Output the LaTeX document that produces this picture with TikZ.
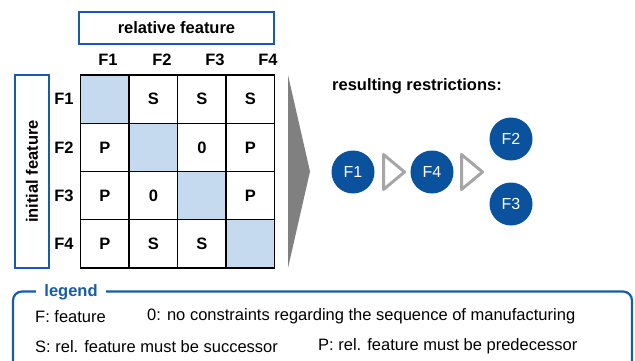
\documentclass[tikz,border=0pt]{standalone}
\usepackage{fontspec}
\setmainfont{Liberation Sans}
\usetikzlibrary{positioning}

\definecolor{darkblue}{RGB}{10,82,158}
\definecolor{frameblue}{RGB}{22,92,168}
\definecolor{cellblue}{RGB}{197,218,239}
\definecolor{arrowgray}{RGB}{128,128,128}
\definecolor{chevgray}{RGB}{166,166,166}

\newcommand{\fsz}{\fontsize{16.5}{19}\selectfont}

\tikzset{
  txt/.style={font=\fsz, inner sep=0pt},
  btxt/.style={font=\fsz\bfseries, inner sep=0pt},
  cell/.style={draw=black, line width=1.4pt, minimum width=48.5pt, minimum height=48.25pt,
    inner sep=0pt, font=\fsz\bfseries},
  diag/.style={cell, fill=cellblue},
  titlebox/.style={draw=frameblue, line width=2.4pt, inner sep=0pt, font=\fsz\bfseries},
  feat/.style={circle, fill=darkblue, text=white, minimum size=43pt, inner sep=0pt,
    font=\fontsize{16}{19}\selectfont},
  chevron/.style={draw=chevgray, line width=3pt, line join=round},
}

\begin{document}
\begin{tikzpicture}[x=1pt, y=-1pt]
\clip (0,0) rectangle (635,361);
\fill[white] (0,0) rectangle (635,361);

% header box for the columns
\node[titlebox, minimum width=195pt, minimum height=32pt] (rel) at (176.5,28) {relative feature};

% header box for the rows
\node[titlebox, minimum width=34pt, minimum height=193pt] (ini) at (32,171.5) {};
\node[btxt, rotate=90] (initxt) at (ini.center) {initial feature};

% matrix cells
\node[diag] (c11) at (104.9,99.1) {};
\node[cell] (c12) at (153.4,99.1) {S};
\node[cell] (c13) at (201.9,99.1) {S};
\node[cell] (c14) at (250.4,99.1) {S};

\node[cell] (c21) at (104.9,147.35) {P};
\node[diag] (c22) at (153.4,147.35) {};
\node[cell] (c23) at (201.9,147.35) {0};
\node[cell] (c24) at (250.4,147.35) {P};

\node[cell] (c31) at (104.9,195.6) {P};
\node[cell] (c32) at (153.4,195.6) {0};
\node[diag] (c33) at (201.9,195.6) {};
\node[cell] (c34) at (250.4,195.6) {P};

\node[cell] (c41) at (104.9,243.85) {P};
\node[cell] (c42) at (153.4,243.85) {S};
\node[cell] (c43) at (201.9,243.85) {S};
\node[diag] (c44) at (250.4,243.85) {};

% column labels
\node[btxt] (h1) at (108,60) {F1};
\node[btxt] (h2) at (162,60) {F2};
\node[btxt] (h3) at (215,60) {F3};
\node[btxt] (h4) at (268,60) {F4};

% row labels
\node[btxt] (r1) at (64,99.1) {F1};
\node[btxt] (r2) at (64,147.35) {F2};
\node[btxt] (r3) at (64,195.6) {F3};
\node[btxt] (r4) at (64,243.85) {F4};

% big arrow from matrix to result
\fill[arrowgray] (288,75) -- (310,171.5) -- (288,268) -- cycle;

% resulting sequence
\node[btxt, anchor=west] (res) at (332,86) {resulting restrictions:};
\node[feat] (f1) at (353,172) {F1};
\node[feat] (f4) at (432,172) {F4};
\node[feat] (f2) at (511,139) {F2};
\node[feat] (f3) at (511,204) {F3};
\draw[chevron] (383.5,154.5) -- (404.5,172) -- (383.5,189.5) -- cycle;
\draw[chevron] (461.5,154.5) -- (482.5,172) -- (461.5,189.5) -- cycle;

% legend frame
\draw[frameblue, line width=2.2pt, rounded corners=9pt] (13,380) -- (13,291.5) -- (632,291.5) -- (632,380);
\node[txt, fill=white, inner xsep=8pt, inner ysep=2pt, text=frameblue, font=\fsz\bfseries] (leg) at (71,292) {legend};
\node[txt, anchor=west] (l1) at (35,316.5) {F: feature};
\node[txt, anchor=west] (l2) at (147,316.5) {0: no constraints regarding the sequence of manufacturing};
\node[txt, anchor=west] (l3) at (35,346.5) {S: rel. feature must be successor};
\node[txt, anchor=west] (l4) at (318,346.5) {P: rel. feature must be predecessor};
\end{tikzpicture}
\end{document}
